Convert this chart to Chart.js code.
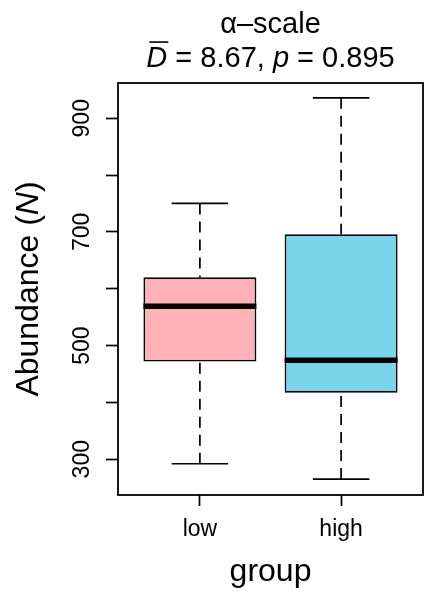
<!DOCTYPE html>
<html>
<head>
<meta charset="utf-8">
<script src="https://cdn.jsdelivr.net/npm/chart.js@4"></script>
<style>
  html, body { margin: 0; padding: 0; background: #fff; }
  canvas { display: block; }
</style>
</head>
<body>
<canvas id="boxChart" width="425" height="592"></canvas>
<script>
const groups = ['low', 'high'];
const boxColors = ['#FFB3B7', '#79D4EC'];
const whiskerLow = [292, 265];
const quartile1 = [472, 417];
const medians = [569, 474];
const quartile3 = [620, 696];
const whiskerHigh = [750, 936];
const yTickValues = [300, 400, 500, 600, 700, 800, 900];
const yTickLabels = ['300', '', '500', '', '700', '', '900'];

const titleLine1 = 'α–scale';
const meanD = '8.67';
const pValue = '0.895';

const family = "'Liberation Sans', Arial, sans-serif";

// writes a row of text pieces (some italic) centred on cx
function drawParts(ctx, parts, cx, baseline, size) {
    let total = 0;
    parts.forEach(p => {
        ctx.font = (p.italic ? 'italic ' : '') + size + 'px ' + family;
        p.w = ctx.measureText(p.text).width;
        total += p.w;
    });
    let xpos = cx - total / 2;
    ctx.textAlign = 'left';
    ctx.textBaseline = 'alphabetic';
    parts.forEach(p => {
        ctx.font = (p.italic ? 'italic ' : '') + size + 'px ' + family;
        ctx.fillText(p.text, xpos, baseline);
        if (p.overline) {
            ctx.lineWidth = 1.6;
            ctx.beginPath();
            ctx.moveTo(xpos + 3, baseline - size * 0.86);
            ctx.lineTo(xpos + p.w + 1, baseline - size * 0.86);
            ctx.stroke();
        }
        xpos += p.w;
    });
}

const boxplotExtras = {
    id: 'boxplotExtras',
    afterDatasetsDraw(chart) {
        const { ctx, chartArea, scales: { x, y } } = chart;
        ctx.save();
        ctx.strokeStyle = '#000';
        ctx.lineCap = 'butt';
        groups.forEach((g, i) => {
            const cx = x.getPixelForValue(i + 1);
            // dashed whiskers
            ctx.lineWidth = 1.7;
            ctx.setLineDash([11, 7]);
            ctx.beginPath();
            ctx.moveTo(cx, y.getPixelForValue(whiskerHigh[i]));
            ctx.lineTo(cx, y.getPixelForValue(quartile3[i]));
            ctx.moveTo(cx, y.getPixelForValue(whiskerLow[i]));
            ctx.lineTo(cx, y.getPixelForValue(quartile1[i]));
            ctx.stroke();
            ctx.setLineDash([]);
            // staples
            ctx.beginPath();
            [whiskerHigh[i], whiskerLow[i]].forEach(v => {
                ctx.moveTo(x.getPixelForValue(i + 1 - 0.2), y.getPixelForValue(v));
                ctx.lineTo(x.getPixelForValue(i + 1 + 0.2), y.getPixelForValue(v));
            });
            ctx.stroke();
            // median
            ctx.lineWidth = 5.5;
            ctx.beginPath();
            ctx.moveTo(x.getPixelForValue(i + 1 - 0.4), y.getPixelForValue(medians[i]));
            ctx.lineTo(x.getPixelForValue(i + 1 + 0.4), y.getPixelForValue(medians[i]));
            ctx.stroke();
        });
        ctx.lineWidth = 1.8;
        ctx.strokeRect(chartArea.left, chartArea.top, chartArea.right - chartArea.left, chartArea.bottom - chartArea.top);
        ctx.restore();
    },
    afterDraw(chart) {
        const { ctx, chartArea } = chart;
        const mid = (chartArea.left + chartArea.right) / 2;
        ctx.save();
        ctx.fillStyle = '#000';
        ctx.strokeStyle = '#000';
        drawParts(ctx, [{ text: titleLine1 }], mid, 33, 29);
        drawParts(ctx, [
            { text: 'D', italic: true, overline: true },
            { text: ' = ' + meanD + ', ' },
            { text: 'p', italic: true },
            { text: ' = ' + pValue }
        ], mid, 67, 29);
        drawParts(ctx, [{ text: 'group' }], mid, 581, 32);
        ctx.translate(38, (chartArea.top + chartArea.bottom) / 2);
        ctx.rotate(-Math.PI / 2);
        drawParts(ctx, [
            { text: 'Abundance (' },
            { text: 'N', italic: true },
            { text: ')' }
        ], 0, 0, 32);
        ctx.restore();
    }
};

const ctx = document.getElementById('boxChart').getContext('2d');

new Chart(ctx, {
    type: 'bar',
    data: {
        datasets: [{
            data: groups.map((g, i) => ({ x: i + 1, y: [quartile1[i], quartile3[i]] })),
            backgroundColor: boxColors,
            borderColor: '#000',
            borderWidth: 1.8,
            borderSkipped: false,
            categoryPercentage: 1,
            barPercentage: 0.8
        }]
    },
    options: {
        responsive: false,
        animation: false,
        layout: { padding: { top: 83, right: 2, left: 0, bottom: 0 } },
        plugins: {
            legend: { display: false },
            tooltip: { enabled: false }
        },
        scales: {
            x: {
                type: 'linear',
                min: 0.42,
                max: 2.58,
                offset: false,
                afterBuildTicks: s => { s.ticks = groups.map((g, i) => ({ value: i + 1 })); },
                afterFit: s => { s.height = 97; },
                grid: { drawOnChartArea: false, offset: false, tickLength: 11, tickWidth: 1.7, tickColor: '#000' },
                border: { display: false },
                ticks: {
                    callback: v => groups[v - 1],
                    color: '#000',
                    font: { family: family, size: 23 },
                    padding: 10,
                    maxRotation: 0,
                    autoSkip: false
                }
            },
            y: {
                type: 'linear',
                min: 237,
                max: 962,
                beginAtZero: false,
                afterBuildTicks: s => { s.ticks = yTickValues.map(v => ({ value: v })); },
                afterFit: s => { s.width = 118; },
                grid: { drawOnChartArea: false, tickLength: 12, tickWidth: 1.7, tickColor: '#000' },
                border: { display: false },
                ticks: {
                    callback: (v, i) => yTickLabels[i],
                    color: '#000',
                    font: { family: family, size: 23 },
                    minRotation: 90,
                    maxRotation: 90,
                    crossAlign: 'center',
                    padding: 4,
                    autoSkip: false
                }
            }
        }
    },
    plugins: [boxplotExtras]
});
</script>
</body>
</html>
